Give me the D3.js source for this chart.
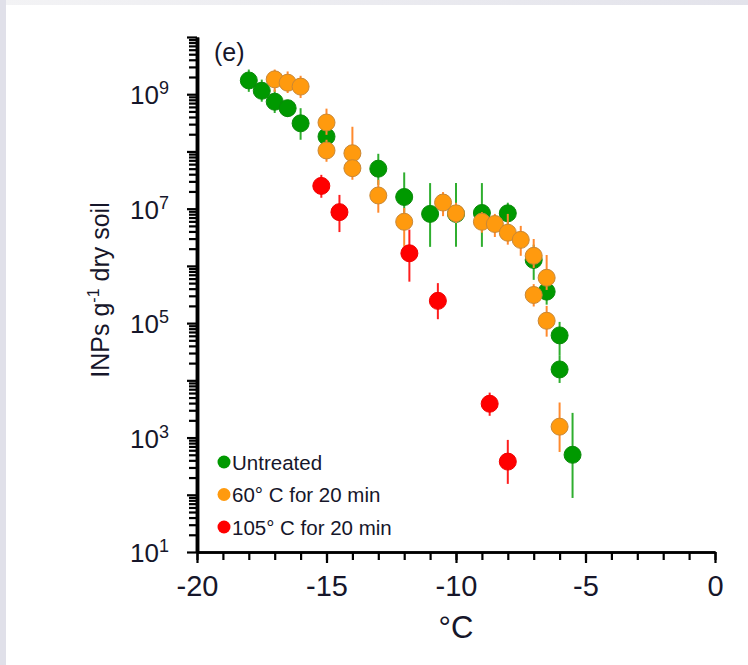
<!DOCTYPE html>
<html>
<head>
<meta charset="utf-8">
<script src="https://cdn.jsdelivr.net/npm/d3@7"></script>
<style>
  html, body { margin: 0; padding: 0; background: #fff; }
  svg { display: block; }
  text { font-family: "Liberation Sans", Arial, sans-serif; fill: #16162a; }
</style>
</head>
<body>
<svg id="chart" width="748" height="665"></svg>
<script>
// Ice-nucleating particle spectra (INPs per g dry soil) vs temperature
const untreatedT   = [-18, -17.5, -17, -16.5, -16, -15, -13, -12, -11, -10, -9, -8, -7, -6.5, -6, -6, -5.5];
const untreatedINP = [1.74e9, 1.15e9, 7.4e8, 5.7e8, 3.1e8, 1.82e8, 5.0e7, 1.6e7, 8.1e6, 8.1e6, 8.4e6, 8.3e6, 1.27e6, 3.55e5, 6.1e4, 1.55e4, 5.0e2];
const untreatedLo  = [1.1e9, 7.4e8, 4.7e8, 4.0e8, 1.6e8, 1.07e8, 2.6e7, 7.8e6, 2.15e6, 2.15e6, 2.15e6, 5.1e6, 5.7e5, 2.1e5, 2.75e4, 9.0e3, 88];
const untreatedHi  = [2.7e9, 1.8e9, 1.2e9, 7.9e8, 5.7e8, 2.9e8, 9.1e7, 4.3e7, 2.8e7, 2.8e7, 2.8e7, 1.27e7, 2.35e6, 6.2e5, 1.05e5, 2.75e4, 2.7e3];

const heat60T   = [-17, -16.5, -16, -15, -15, -14, -14, -13, -12, -10.5, -10, -9, -8.5, -8, -7.5, -7, -6.5, -7, -6.5, -6];
const heat60INP = [1.82e9, 1.59e9, 1.36e9, 3.2e8, 1.04e8, 9.3e7, 5.1e7, 1.7e7, 5.9e6, 1.28e7, 8.3e6, 5.9e6, 5.4e6, 3.8e6, 2.85e6, 1.5e6, 6.2e5, 3.1e5, 1.1e5, 1.55e3];
const heat60Lo  = [1.1e9, 1.05e9, 8.6e8, 1.95e8, 6.6e7, 5.9e7, 3.2e7, 8.5e6, 2.15e6, 7.4e6, 5.6e6, 3.8e6, 3.2e6, 2.35e6, 1.5e6, 9.2e5, 3.8e5, 1.95e5, 5.8e4, 5.6e2];
const heat60Hi  = [2.7e9, 2.5e9, 2.1e9, 5.6e8, 1.6e8, 2.7e8, 7.8e7, 3.2e7, 1.03e7, 1.95e7, 1.27e7, 8.7e6, 8.1e6, 8.1e6, 5.0e6, 2.95e6, 1.55e6, 4.8e5, 2.0e5, 4.1e3];

const heat105T   = [-15.2, -14.5, -11.8, -10.7, -8.7, -8];
const heat105INP = [2.5e7, 8.7e6, 1.66e6, 2.45e5, 3.9e3, 3.8e2];
const heat105Lo  = [1.55e7, 3.9e6, 5.3e5, 1.17e5, 2.4e3, 1.55e2];
const heat105Hi  = [3.9e7, 1.74e7, 4.3e6, 5.0e5, 6.1e3, 9.1e2];

const seriesNames = ["Untreated", "60° C for 20 min", "105° C for 20 min"];
const xTickLabels = [-20, -15, -10, -5, 0];
const yLabelExponents = [1, 3, 5, 7, 9];

const series = [
  {name: seriesNames[0], T: untreatedT, v: untreatedINP, lo: untreatedLo, hi: untreatedHi,
   fill: "#009900", stroke: "#0a8a0a", bar: "#2fae2f"},
  {name: seriesNames[1], T: heat60T, v: heat60INP, lo: heat60Lo, hi: heat60Hi,
   fill: "#ff9a0e", stroke: "#c98735", bar: "#ff8a2e"},
  {name: seriesNames[2], T: heat105T, v: heat105INP, lo: heat105Lo, hi: heat105Hi,
   fill: "#ff0000", stroke: "#f00000", bar: "#ff1e1e"}
];

const svg = d3.select("#chart");

// page backdrop: white panel with a soft grey frame on top and left
const defs = svg.append("defs");
const gTop = defs.append("linearGradient").attr("id", "topband").attr("x1", 0).attr("x2", 1);
gTop.append("stop").attr("offset", 0).attr("stop-color", "#f3f3f5");
gTop.append("stop").attr("offset", 1).attr("stop-color", "#e3e3eb");
svg.append("rect").attr("width", 748).attr("height", 665).attr("fill", "#fff");
svg.append("rect").attr("width", 748).attr("height", 5).attr("fill", "url(#topband)");
svg.append("rect").attr("width", 6).attr("height", 665).attr("fill", "#e0e0e9");

const x = d3.scaleLinear().domain([-20, 0]).range([197, 715]);
const y = d3.scaleLog().domain([10, 1e10]).range([552, 37]);

// error bars and markers, one series at a time
series.forEach(s => {
  const g = svg.append("g");
  const idx = d3.range(s.T.length);
  g.selectAll("line").data(idx).join("line")
    .attr("x1", i => x(s.T[i])).attr("x2", i => x(s.T[i]))
    .attr("y1", i => y(s.lo[i])).attr("y2", i => y(s.hi[i]))
    .attr("stroke", s.bar).attr("stroke-width", 2);
  g.selectAll("circle").data(idx).join("circle")
    .attr("cx", i => x(s.T[i])).attr("cy", i => y(s.v[i]))
    .attr("r", 8.5)
    .attr("fill", s.fill).attr("stroke", s.stroke).attr("stroke-width", 1);
});

// x axis: minor ticks each degree, longer ticks every 5 degrees
const xMinor = svg.append("g").attr("transform", `translate(0,${y(10)})`)
  .call(d3.axisBottom(x).tickValues(d3.range(-20, 1, 1)).tickSize(8).tickSizeOuter(0).tickFormat(""));
const xMajor = svg.append("g").attr("transform", `translate(0,${y(10)})`)
  .call(d3.axisBottom(x).tickValues(xTickLabels).tickSize(11).tickSizeOuter(0).tickPadding(12)
        .tickFormat(d => String(d)));
[xMinor, xMajor].forEach(a => {
  a.select(".domain").attr("stroke", "#000").attr("stroke-width", 2.5);
  a.selectAll(".tick line").attr("stroke", "#000").attr("stroke-width", 2.2);
});
xMajor.selectAll(".tick text").attr("font-size", 29).attr("fill", "#16162a")
  .attr("font-family", "Liberation Sans, Arial, sans-serif");

// y axis: log scale, minor ticks 2..9 within each decade
const decades = d3.range(1, 11).map(e => Math.pow(10, e));
const minorVals = [];
d3.range(1, 10).forEach(e => d3.range(2, 10).forEach(k => minorVals.push(k * Math.pow(10, e))));
const yMinor = svg.append("g").attr("transform", `translate(${x(-20)},0)`)
  .call(d3.axisLeft(y).tickValues(minorVals).tickSize(8).tickSizeOuter(0).tickFormat(""));
const yMajor = svg.append("g").attr("transform", `translate(${x(-20)},0)`)
  .call(d3.axisLeft(y).tickValues(decades).tickSize(10).tickSizeOuter(0).tickFormat(""));
[yMinor, yMajor].forEach(a => {
  a.select(".domain").attr("stroke", "#000").attr("stroke-width", 3.5);
  a.selectAll(".tick line").attr("stroke", "#000").attr("stroke-width", 2.2);
});

// y tick labels as 10 with superscript exponent
yLabelExponents.forEach(e => {
  const t = svg.append("text")
    .attr("x", 169).attr("y", y(Math.pow(10, e)) + 10)
    .attr("text-anchor", "end").attr("font-size", 26);
  t.append("tspan").text("10");
  t.append("tspan").attr("font-size", 18).attr("dy", -10).text(String(e));
});

// axis titles
svg.append("text").attr("x", x(-10)).attr("y", 638)
  .attr("text-anchor", "middle").attr("font-size", 31).text("°C");
const yt = svg.append("text")
  .attr("transform", "translate(109,290) rotate(-90)")
  .attr("text-anchor", "middle").attr("font-size", 25);
yt.append("tspan").text("INPs g");
yt.append("tspan").attr("font-size", 16).attr("dy", -10).text("-1");
yt.append("tspan").attr("dy", 10).text(" dry soil");

// panel tag
svg.append("text").attr("x", 214).attr("y", 61).attr("font-size", 25).text("(e)");

// legend
const legend = svg.append("g");
series.forEach((s, i) => {
  const ly = 462 + i * 32.5;
  legend.append("circle").attr("cx", 224).attr("cy", ly).attr("r", 6.5).attr("fill", s.fill);
  legend.append("text").attr("x", 232).attr("y", ly + 7.5).attr("font-size", 20.5).text(s.name);
});
</script>
</body>
</html>
